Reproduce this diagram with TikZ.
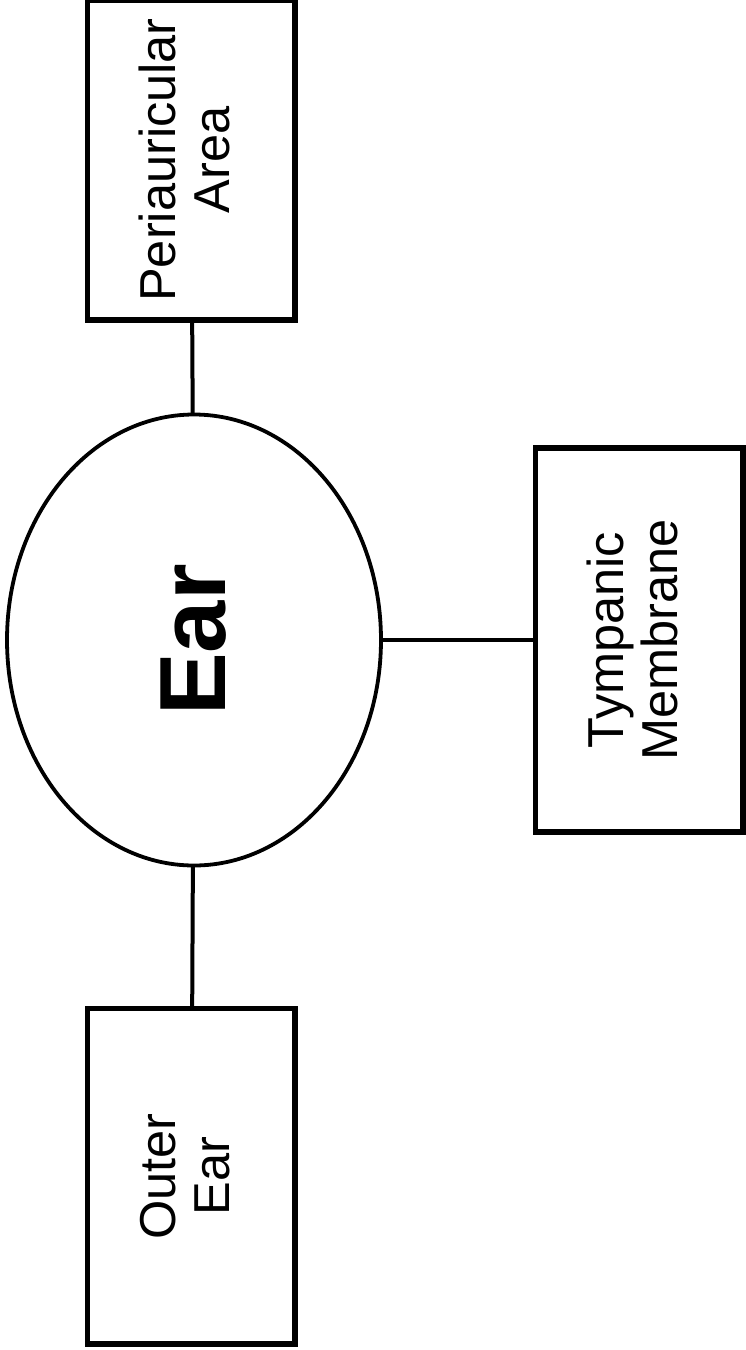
\documentclass[tikz,border=0pt]{standalone}
\usepackage{fontspec}
\setmainfont{Liberation Sans}
\usepackage{graphicx}
\usetikzlibrary{shapes.geometric}
\tikzset{
  boxnode/.style={draw, line width=5.5pt, rectangle, inner sep=0pt, outer sep=0pt, minimum width=207.5pt},
  earnode/.style={draw, line width=3.8pt, ellipse, inner sep=0pt, outer sep=0pt, minimum width=374pt, minimum height=451pt},
  conn/.style={line width=4pt},
  lbl/.style={font=\fontsize{50.5}{54}\selectfont}
}
\newcommand{\vlabel}[1]{\rotatebox{90}{\begin{tabular}{@{}c@{}}#1\end{tabular}}}
\begin{document}
\begin{tikzpicture}[x=1pt,y=-1pt]
  \useasboundingbox (0,0) rectangle (746,1350);
  \node[earnode] (ear) at (194,640) {\rotatebox{90}{\fontsize{94}{100}\selectfont\bfseries Ear}};
  \node[boxnode, minimum height=320pt, lbl] (peri) at (191.25,160) {\vlabel{Periauricular\\Area}};
  \node[boxnode, minimum height=384pt, lbl] (tymp) at (639.25,640) {\vlabel{Tympanic\\Membrane}};
  \node[boxnode, minimum height=335.3pt, lbl] (outer) at (191.35,1176.35) {\vlabel{Outer\\Ear}};
  \draw[conn] (ear) -- (peri);
  \draw[conn] (ear) -- (tymp);
  \draw[conn] (ear) -- (outer);
\end{tikzpicture}
\end{document}
